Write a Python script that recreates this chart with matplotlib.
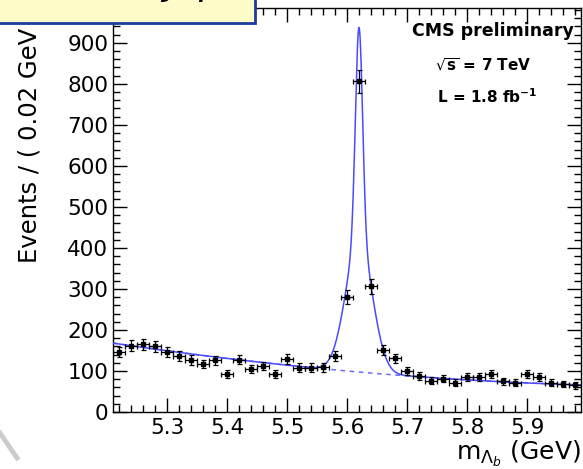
import numpy as np
import matplotlib.pyplot as plt
from matplotlib.patches import Rectangle
from matplotlib.lines import Line2D
from matplotlib.ticker import MultipleLocator

plt.rcParams['font.family'] = ['DejaVu Sans']
plt.rcParams['mathtext.fontset'] = 'dejavusans'

# bin centres (0.02 GeV bins) and events per bin
mass = [5.22, 5.24, 5.26, 5.28, 5.30, 5.32, 5.34, 5.36, 5.38, 5.40,
        5.42, 5.44, 5.46, 5.48, 5.50, 5.52, 5.54, 5.56, 5.58, 5.60,
        5.62, 5.64, 5.66, 5.68, 5.70, 5.72, 5.74, 5.76, 5.78, 5.80,
        5.82, 5.84, 5.86, 5.88, 5.90, 5.92, 5.94, 5.96, 5.98]
events = [146, 162, 165, 160, 147, 137, 127, 117, 126, 92,
          128, 105, 112, 92, 129, 108, 108, 109, 137, 281,
          806, 306, 151, 131, 100, 88, 76, 81, 71, 86,
          86, 93, 75, 71, 93, 85, 71, 68, 65]
bin_half = 0.01

# fit result: quadratic background + double gaussian peak
bkg_pts = [(5.21, 168), (5.60, 100), (5.99, 66)]
peak_mean = 5.62
peak_amp = [520, 320]
peak_sigma = [0.006, 0.022]

bkg_coef = np.polyfit([p[0] for p in bkg_pts], [p[1] for p in bkg_pts], 2)

xx = np.linspace(5.21, 5.99, 1500)
bkg = np.polyval(bkg_coef, xx)
sig = sum(a * np.exp(-0.5 * ((xx - peak_mean) / s) ** 2)
          for a, s in zip(peak_amp, peak_sigma))

fig = plt.figure(figsize=(5.83, 4.69), dpi=100)
ax = fig.add_axes([113 / 583, 57 / 469, 468 / 583, 404 / 469])

ax.plot(xx, bkg, color='#6a6aff', lw=1.1, ls=(0, (3, 3)), zorder=2)
ax.plot(xx, bkg + sig, color='#4a4aff', lw=1.1, zorder=3)

ev = np.array(events)
ax.errorbar(mass, ev, yerr=np.sqrt(ev), xerr=bin_half, fmt='s', ms=2.5,
            color='black', ecolor='black', elinewidth=0.9, capsize=1.8,
            capthick=0.9, zorder=4)

ax.set_xlim(5.21, 5.99)
ax.set_ylim(0, 985)
ax.xaxis.set_major_locator(MultipleLocator(0.1))
ax.xaxis.set_minor_locator(MultipleLocator(0.02))
ax.yaxis.set_major_locator(MultipleLocator(100))
ax.yaxis.set_minor_locator(MultipleLocator(20))
ax.tick_params(which='both', direction='in', top=True, right=True,
               width=1, colors='black')
ax.tick_params(which='major', length=10, labelsize=15.5)
ax.tick_params(axis='y', which='major', pad=3.5)
ax.tick_params(axis='x', which='major', pad=4)
ax.tick_params(which='minor', length=5)
for sp in ax.spines.values():
    sp.set_linewidth(1)

ax.text(0.985, 0.942, 'CMS preliminary', transform=ax.transAxes,
        ha='right', va='center', fontsize=12.5, fontweight='bold')
ax.text(0.79, 0.86, r'$\mathbf{\sqrt{s}}$ = 7 TeV', transform=ax.transAxes,
        ha='center', va='center', fontsize=11, fontweight='bold')
ax.text(0.80, 0.78, r'L = 1.8 fb$^{\mathbf{-1}}$', transform=ax.transAxes,
        ha='center', va='center', fontsize=11, fontweight='bold')

fig.text(30 / 583, (469 - 263) / 469, 'Events / ( 0.02 GeV )',
         rotation=90, ha='center', va='bottom', fontsize=17.5)
fig.text(581 / 583, 9 / 469, r'm$_{\Lambda_b}$ (GeV)', ha='right',
         va='baseline', fontsize=18)

# slide overlay: title box cut by the top edge, and a stray grey stroke
fig.patches.append(Rectangle((-0.05, (469 - 23) / 469), (255 / 583) + 0.05,
                             0.2, transform=fig.transFigure,
                             facecolor='#fdfbc8', edgecolor='#1a3c9c',
                             lw=2, zorder=10))
fig.text(4 / 583, (469 + 6) / 469,
         r'$\Lambda_b \quad\rightarrow\quad J/\psi\;\Lambda$',
         ha='left', va='baseline', fontsize=27, zorder=11)
fig.lines.append(Line2D([0, 17 / 583], [(469 - 433) / 469, (469 - 458) / 469],
                        transform=fig.transFigure, color='#cccccc', lw=3.5))

fig.savefig('out.png', dpi=100)
